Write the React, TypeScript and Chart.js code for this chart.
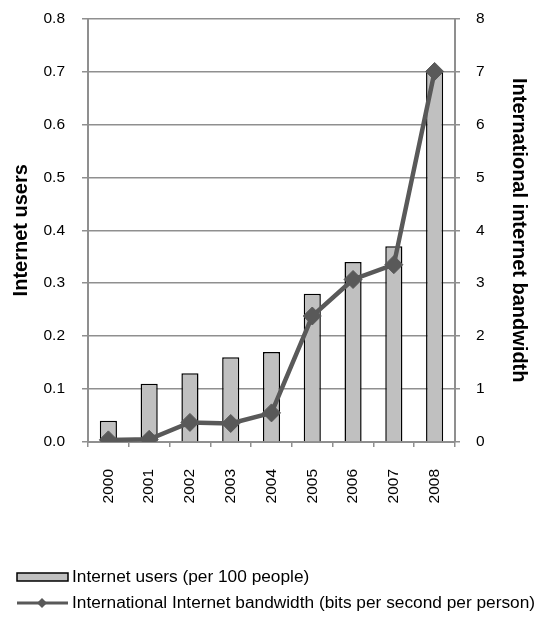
import React, { useEffect, useRef } from "react";
import { Chart, registerables } from "chart.js";

Chart.register(...registerables);

const years = ["2000", "2001", "2002", "2003", "2004", "2005", "2006", "2007", "2008"];
const internetUsers = [0.04, 0.11, 0.13, 0.16, 0.17, 0.28, 0.34, 0.37, 0.7];
const bandwidth = [0.04, 0.05, 0.37, 0.35, 0.55, 2.38, 3.07, 3.35, 7.0];
const usersLabel = "Internet users (per 100 people)";
const bandwidthLabel = "International Internet bandwidth (bits per second per person)";

const FONT = "'Liberation Sans', Arial, sans-serif";
const GRID = "#8f8f8f";
const BAR_FILL = "#c0c0c0";
const LINE = "#595959";

const legendPlugin = {
  id: "customLegend",
  afterDraw(chart: any) {
    const ctx = chart.ctx;
    ctx.save();
    ctx.font = `17.3px ${FONT}`;
    ctx.textBaseline = "middle";
    ctx.textAlign = "left";
    // bar swatch
    ctx.fillStyle = BAR_FILL;
    ctx.fillRect(9, 565, 51, 8);
    ctx.strokeStyle = "#000";
    ctx.lineWidth = 1.5;
    ctx.strokeRect(9, 565, 51, 8);
    ctx.fillStyle = "#000";
    ctx.fillText(usersLabel, 64, 569);
    // line swatch
    ctx.strokeStyle = LINE;
    ctx.lineWidth = 3;
    ctx.beginPath();
    ctx.moveTo(9, 595);
    ctx.lineTo(60, 595);
    ctx.stroke();
    ctx.fillStyle = LINE;
    ctx.beginPath();
    ctx.moveTo(34, 590);
    ctx.lineTo(39, 595);
    ctx.lineTo(34, 600);
    ctx.lineTo(29, 595);
    ctx.closePath();
    ctx.fill();
    ctx.fillStyle = "#000";
    ctx.fillText(bandwidthLabel, 64, 595);
    ctx.restore();
  },
};

function zeroPad(scale: any) {
  scale.paddingTop = 0;
  scale.paddingBottom = 0;
}

export default function App() {
  const ref = useRef<HTMLCanvasElement | null>(null);
  useEffect(() => {
    if (!ref.current) return;
    const chart = new Chart(ref.current, {
      type: "bar",
      data: {
        labels: years,
        datasets: [
          {
            type: "line",
            label: bandwidthLabel,
            data: bandwidth,
            yAxisID: "y1",
            borderColor: LINE,
            backgroundColor: LINE,
            borderWidth: 4.5,
            pointStyle: "rectRot",
            pointRadius: 9,
            pointBackgroundColor: LINE,
            pointBorderColor: LINE,
            pointBorderWidth: 1,
            tension: 0,
            order: 0,
          } as any,
          {
            type: "bar",
            label: usersLabel,
            data: internetUsers,
            yAxisID: "y",
            backgroundColor: BAR_FILL,
            borderColor: "#000",
            borderWidth: 1.5,
            barPercentage: 0.42,
            categoryPercentage: 1,
            order: 1,
          } as any,
        ],
      },
      options: {
        responsive: false,
        animation: false,
        layout: { padding: { top: 10.5, bottom: 96, left: 0, right: 0 } },
        plugins: { legend: { display: false }, tooltip: { enabled: false } },
        scales: {
          x: {
            offset: true,
            grid: {
              offset: true,
              drawOnChartArea: false,
              drawTicks: true,
              tickLength: 5,
              color: GRID,
              lineWidth: 1.5,
            },
            border: { color: GRID, width: 2 },
            ticks: {
              color: "#000",
              font: { family: FONT, size: 15.5 },
              minRotation: 90,
              maxRotation: 90,
              padding: 22,
              autoSkip: false,
            },
            afterFit(scale: any) {
              scale.height = 79;
              zeroPad(scale);
            },
          },
          y: {
            position: "left",
            min: 0,
            max: 0.8,
            ticks: {
              stepSize: 0.1,
              color: "#000",
              font: { family: FONT, size: 15.5 },
              padding: 17,
              callback: (v: any) => Number(v).toFixed(1),
            },
            grid: { color: GRID, lineWidth: 1.5, tickLength: 6 },
            border: { color: GRID, width: 2 },
            title: {
              display: true,
              text: "Internet users",
              color: "#000",
              font: { family: FONT, size: 20, weight: "bold" },
              padding: { top: 1, bottom: 0 },
            },
            afterFit(scale: any) {
              scale.width = 80;
              zeroPad(scale);
            },
          },
          y1: {
            position: "right",
            min: 0,
            max: 8,
            ticks: {
              stepSize: 1,
              color: "#000",
              font: { family: FONT, size: 15.5 },
              padding: 16,
            },
            grid: { drawOnChartArea: false, color: GRID, lineWidth: 1.5, tickLength: 5 },
            border: { color: GRID, width: 2 },
            title: {
              display: true,
              text: "International internet bandwidth",
              color: "#000",
              font: { family: FONT, size: 20, weight: "bold" },
              padding: { top: 14, bottom: 0 },
            },
            afterFit(scale: any) {
              scale.width = 90;
              zeroPad(scale);
            },
          },
        },
      },
      plugins: [legendPlugin],
    });
    return () => chart.destroy();
  }, []);
  return <canvas ref={ref} width={537} height={609} style={{ display: "block" }} />;
}
